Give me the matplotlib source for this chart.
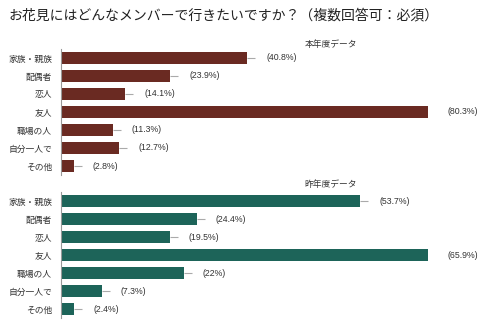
import matplotlib
matplotlib.use('Agg')
import matplotlib.pyplot as plt

plt.rcParams['font.family'] = ['Noto Sans CJK JP', 'DejaVu Sans']

categories = ['家族・親族', '配偶者', '恋人', '友人', '職場の人', '自分一人で', 'その他']
this_year = [40.8, 23.9, 14.1, 80.3, 11.3, 12.7, 2.8]
last_year = [53.7, 24.4, 19.5, 65.9, 22.0, 7.3, 2.4]
this_labels = ['(40.8%)', '(23.9%)', '(14.1%)', '(80.3%)', '(11.3%)', '(12.7%)', '(2.8%)']
last_labels = ['(53.7%)', '(24.4%)', '(19.5%)', '(65.9%)', '(22%)', '(7.3%)', '(2.4%)']

title = 'お花見にはどんなメンバーで行きたいですか？（複数回答可：必須）'
sub_top = '本年度データ'
sub_bottom = '昨年度データ'

W, H = 500, 327
fig = plt.figure(figsize=(W / 100, H / 100), dpi=100)
fig.patch.set_facecolor('white')


def panel(rect, values, labels, color):
    ax = fig.add_axes(rect)
    y = list(range(len(values)))
    vmax = max(values)
    ax.barh(y, values, height=0.62, color=color, zorder=2)
    # small whisker after each bar
    w = vmax * 8 / 367
    ax.hlines(y, values, [v + w for v in values], color='#aaaaaa', lw=0.8, zorder=1)
    for yi, v, lab in zip(y, values, labels):
        ax.annotate(lab, (v, yi), xytext=(19, 0), textcoords='offset pixels',
                    va='center', ha='left', fontsize=6.3, color='#333333',
                    family=['Liberation Sans', 'DejaVu Sans'], annotation_clip=False)
    ax.set_xlim(0, vmax)
    ax.set_ylim(len(values) - 0.5, -0.5)
    ax.set_yticks(y)
    ax.set_yticklabels(categories, fontsize=6.3, color='#333333')
    ax.tick_params(axis='y', length=0, pad=6.5)
    ax.set_xticks([])
    for s in ['top', 'right', 'bottom']:
        ax.spines[s].set_visible(False)
    ax.spines['left'].set_color('#999999')
    ax.spines['left'].set_linewidth(0.8)
    ax.set_facecolor('none')
    return ax


left = 61 / W
width = 367 / W
height = 126 / H
panel([left, 1 - 175 / H, width, height], this_year, this_labels, '#6a2a22')
panel([left, 1 - 318 / H, width, height], last_year, last_labels, '#1d6459')

fig.text(8 / W, 1 - 15 / H, title, fontsize=10, va='center', ha='left', color='#222222')
fig.text(331 / W, 1 - 44 / H, sub_top, fontsize=6.3, va='center', ha='center', color='#333333')
fig.text(331 / W, 1 - 184 / H, sub_bottom, fontsize=6.3, va='center', ha='center', color='#333333')

fig.savefig('out.png', dpi=100)
